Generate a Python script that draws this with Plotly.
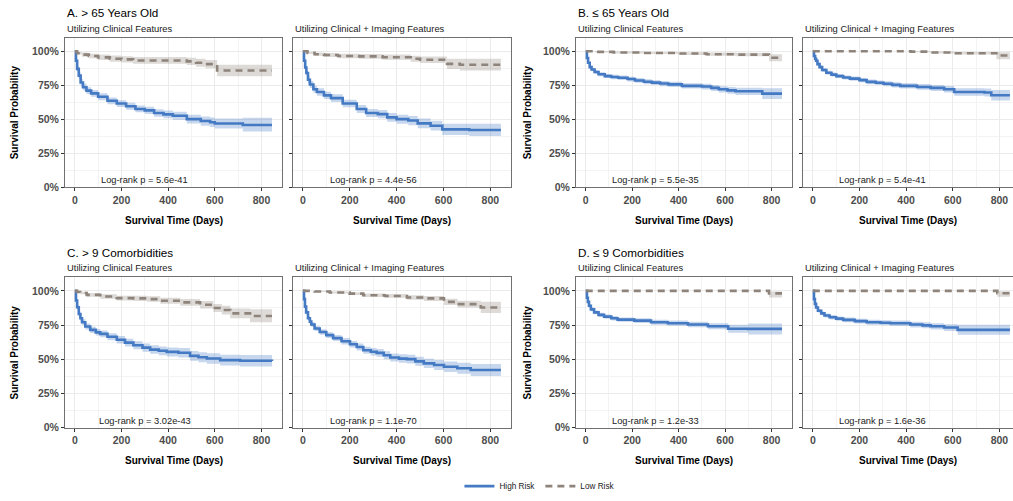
import plotly.graph_objects as go

# ---------------- data ----------------
# A. > 65 years, clinical features
A_cli_high_t = [0, 5, 10, 17, 25, 35, 50, 70, 100, 140, 180, 220, 260, 300, 340, 380, 420, 480, 540, 580, 600, 700, 720, 845]
A_cli_high_s = [1.0, 0.93, 0.87, 0.82, 0.77, 0.735, 0.71, 0.69, 0.665, 0.635, 0.615, 0.595, 0.575, 0.565, 0.545, 0.535, 0.525, 0.50, 0.486, 0.477, 0.468, 0.468, 0.457, 0.457]
A_cli_high_ucl = [1.0, 0.945, 0.89, 0.845, 0.795, 0.76, 0.735, 0.715, 0.69, 0.66, 0.64, 0.62, 0.60, 0.592, 0.573, 0.563, 0.555, 0.532, 0.52, 0.512, 0.505, 0.505, 0.51, 0.51]
A_cli_high_lcl = [1.0, 0.915, 0.85, 0.795, 0.745, 0.71, 0.685, 0.665, 0.64, 0.61, 0.59, 0.57, 0.55, 0.538, 0.517, 0.507, 0.495, 0.468, 0.452, 0.442, 0.431, 0.431, 0.41, 0.41]
A_cli_low_t = [0, 10, 30, 60, 100, 150, 200, 250, 480, 520, 560, 610, 845]
A_cli_low_s = [1.0, 0.985, 0.975, 0.965, 0.955, 0.945, 0.94, 0.932, 0.925, 0.915, 0.905, 0.858, 0.858]
A_cli_low_ucl = [1.0, 0.995, 0.99, 0.982, 0.975, 0.968, 0.963, 0.957, 0.952, 0.944, 0.936, 0.9, 0.9]
A_cli_low_lcl = [1.0, 0.975, 0.96, 0.948, 0.935, 0.922, 0.917, 0.907, 0.898, 0.886, 0.874, 0.816, 0.816]

# A. > 65 years, clinical + imaging
A_img_high_t = [0, 5, 10, 15, 22, 30, 45, 60, 90, 120, 170, 230, 270, 320, 360, 400, 450, 490, 545, 595, 710, 845]
A_img_high_s = [1.0, 0.93, 0.88, 0.84, 0.79, 0.755, 0.72, 0.70, 0.675, 0.655, 0.615, 0.575, 0.545, 0.537, 0.513, 0.50, 0.49, 0.469, 0.452, 0.425, 0.42, 0.42]
A_img_high_ucl = [1.0, 0.945, 0.90, 0.862, 0.815, 0.78, 0.746, 0.727, 0.702, 0.683, 0.643, 0.604, 0.575, 0.568, 0.545, 0.533, 0.524, 0.504, 0.488, 0.466, 0.466, 0.466]
A_img_high_lcl = [1.0, 0.915, 0.86, 0.818, 0.765, 0.73, 0.694, 0.673, 0.648, 0.627, 0.587, 0.546, 0.515, 0.506, 0.481, 0.467, 0.456, 0.434, 0.416, 0.384, 0.377, 0.377]
A_img_low_t = [0, 20, 50, 90, 150, 240, 340, 460, 500, 615, 670, 845]
A_img_low_s = [1.0, 0.988, 0.978, 0.972, 0.965, 0.962, 0.956, 0.945, 0.937, 0.907, 0.9, 0.9]
A_img_low_ucl = [1.0, 0.996, 0.99, 0.986, 0.981, 0.979, 0.975, 0.967, 0.961, 0.945, 0.944, 0.944]
A_img_low_lcl = [1.0, 0.98, 0.966, 0.958, 0.949, 0.945, 0.937, 0.923, 0.913, 0.869, 0.858, 0.858]

# B. <= 65 years, clinical features
B_cli_high_t = [0, 5, 10, 17, 25, 38, 55, 82, 110, 140, 180, 212, 250, 284, 320, 356, 414, 500, 540, 573, 610, 645, 760, 845]
B_cli_high_s = [1.0, 0.95, 0.915, 0.883, 0.865, 0.847, 0.83, 0.817, 0.81, 0.805, 0.795, 0.785, 0.775, 0.769, 0.762, 0.756, 0.745, 0.74, 0.73, 0.72, 0.712, 0.705, 0.688, 0.688]
B_cli_high_ucl = [1.0, 0.958, 0.925, 0.895, 0.878, 0.861, 0.845, 0.832, 0.826, 0.821, 0.812, 0.802, 0.793, 0.787, 0.781, 0.775, 0.765, 0.761, 0.752, 0.743, 0.737, 0.732, 0.728, 0.728]
B_cli_high_lcl = [1.0, 0.942, 0.905, 0.871, 0.852, 0.833, 0.815, 0.802, 0.794, 0.789, 0.778, 0.768, 0.757, 0.751, 0.743, 0.737, 0.725, 0.719, 0.708, 0.697, 0.687, 0.678, 0.648, 0.648]
B_cli_low_t = [0, 40, 120, 250, 400, 520, 650, 789, 845]
B_cli_low_s = [1.0, 0.995, 0.99, 0.987, 0.983, 0.978, 0.975, 0.952, 0.952]
B_cli_low_ucl = [1.0, 0.999, 0.997, 0.995, 0.993, 0.99, 0.988, 0.977, 0.977]
B_cli_low_lcl = [1.0, 0.991, 0.983, 0.979, 0.973, 0.966, 0.962, 0.927, 0.927]

# B. <= 65 years, clinical + imaging
B_img_high_t = [0, 5, 10, 14, 20, 29, 40, 58, 80, 101, 130, 159, 200, 231, 270, 303, 340, 375, 447, 505, 563, 606, 736, 765, 845]
B_img_high_s = [1.0, 0.965, 0.945, 0.93, 0.905, 0.883, 0.862, 0.842, 0.828, 0.817, 0.807, 0.798, 0.787, 0.774, 0.768, 0.761, 0.752, 0.745, 0.737, 0.73, 0.72, 0.70, 0.696, 0.676, 0.676]
B_img_high_ucl = [1.0, 0.972, 0.955, 0.942, 0.918, 0.897, 0.877, 0.857, 0.843, 0.832, 0.822, 0.814, 0.803, 0.791, 0.785, 0.779, 0.771, 0.765, 0.758, 0.752, 0.744, 0.727, 0.725, 0.715, 0.715]
B_img_high_lcl = [1.0, 0.958, 0.935, 0.918, 0.892, 0.869, 0.847, 0.827, 0.813, 0.802, 0.792, 0.782, 0.771, 0.757, 0.751, 0.743, 0.733, 0.725, 0.716, 0.708, 0.696, 0.673, 0.667, 0.637, 0.637]
B_img_low_t = [0, 420, 505, 606, 787, 845]
B_img_low_s = [1.0, 0.997, 0.99, 0.985, 0.968, 0.968]
B_img_low_ucl = [1.0, 1.0, 0.997, 0.995, 0.993, 0.993]
B_img_low_lcl = [1.0, 0.993, 0.983, 0.975, 0.94, 0.94]

# C. > 9 comorbidities, clinical features
C_cli_high_t = [0, 5, 10, 17, 24, 31, 45, 66, 90, 109, 140, 180, 215, 251, 290, 323, 360, 394, 444, 494, 530, 566, 623, 709, 845]
C_cli_high_s = [1.0, 0.93, 0.88, 0.831, 0.8, 0.771, 0.74, 0.715, 0.697, 0.686, 0.665, 0.643, 0.622, 0.603, 0.585, 0.571, 0.562, 0.554, 0.548, 0.525, 0.515, 0.506, 0.494, 0.489, 0.487]
C_cli_high_ucl = [1.0, 0.944, 0.897, 0.85, 0.82, 0.792, 0.762, 0.738, 0.721, 0.711, 0.691, 0.67, 0.65, 0.632, 0.615, 0.602, 0.594, 0.587, 0.582, 0.561, 0.552, 0.544, 0.534, 0.531, 0.53]
C_cli_high_lcl = [1.0, 0.916, 0.863, 0.812, 0.78, 0.75, 0.718, 0.692, 0.673, 0.661, 0.639, 0.616, 0.594, 0.574, 0.555, 0.54, 0.53, 0.521, 0.514, 0.489, 0.478, 0.468, 0.454, 0.447, 0.444]
C_cli_low_t = [0, 10, 23, 51, 109, 180, 251, 309, 366, 452, 537, 594, 630, 666, 751, 845]
C_cli_low_s = [1.0, 0.992, 0.985, 0.971, 0.959, 0.947, 0.945, 0.94, 0.928, 0.916, 0.899, 0.875, 0.86, 0.836, 0.817, 0.817]
C_cli_low_ucl = [1.0, 0.998, 0.994, 0.984, 0.975, 0.965, 0.964, 0.96, 0.95, 0.94, 0.926, 0.905, 0.892, 0.872, 0.865, 0.865]
C_cli_low_lcl = [1.0, 0.986, 0.976, 0.958, 0.943, 0.929, 0.926, 0.92, 0.906, 0.892, 0.872, 0.845, 0.828, 0.8, 0.77, 0.77]

# C. > 9 comorbidities, clinical + imaging
C_img_high_t = [0, 5, 9, 14, 22, 30, 36, 50, 72, 100, 129, 165, 201, 230, 258, 290, 315, 345, 373, 410, 444, 480, 516, 560, 602, 659, 716, 845]
C_img_high_s = [1.0, 0.94, 0.885, 0.843, 0.8, 0.775, 0.754, 0.725, 0.699, 0.677, 0.655, 0.632, 0.61, 0.59, 0.566, 0.555, 0.547, 0.53, 0.513, 0.505, 0.501, 0.485, 0.47, 0.458, 0.446, 0.434, 0.422, 0.422]
C_img_high_ucl = [1.0, 0.95, 0.898, 0.858, 0.816, 0.792, 0.772, 0.744, 0.719, 0.698, 0.677, 0.655, 0.634, 0.615, 0.592, 0.582, 0.575, 0.559, 0.543, 0.536, 0.533, 0.518, 0.504, 0.494, 0.484, 0.474, 0.466, 0.466]
C_img_high_lcl = [1.0, 0.93, 0.872, 0.828, 0.784, 0.758, 0.736, 0.706, 0.679, 0.656, 0.633, 0.609, 0.586, 0.565, 0.54, 0.528, 0.519, 0.501, 0.483, 0.474, 0.469, 0.452, 0.436, 0.422, 0.408, 0.394, 0.378, 0.378]
C_img_low_t = [0, 50, 115, 200, 258, 350, 444, 516, 602, 660, 759, 845]
C_img_low_s = [1.0, 0.995, 0.988, 0.98, 0.968, 0.963, 0.952, 0.945, 0.92, 0.903, 0.879, 0.879]
C_img_low_ucl = [1.0, 0.999, 0.995, 0.99, 0.981, 0.977, 0.968, 0.963, 0.943, 0.928, 0.92, 0.92]
C_img_low_lcl = [1.0, 0.991, 0.981, 0.97, 0.955, 0.949, 0.936, 0.927, 0.897, 0.878, 0.838, 0.838]

# D. <= 9 comorbidities, clinical features
D_cli_high_t = [0, 5, 9, 14, 22, 36, 55, 79, 110, 137, 209, 281, 353, 440, 526, 613, 700, 845]
D_cli_high_s = [1.0, 0.95, 0.92, 0.891, 0.865, 0.843, 0.825, 0.812, 0.8, 0.79, 0.783, 0.771, 0.764, 0.754, 0.741, 0.723, 0.722, 0.722]
D_cli_high_ucl = [1.0, 0.958, 0.93, 0.903, 0.878, 0.857, 0.84, 0.828, 0.816, 0.806, 0.8, 0.789, 0.783, 0.774, 0.763, 0.752, 0.762, 0.762]
D_cli_high_lcl = [1.0, 0.942, 0.91, 0.879, 0.852, 0.829, 0.81, 0.796, 0.784, 0.774, 0.766, 0.753, 0.745, 0.734, 0.719, 0.694, 0.682, 0.682]
D_cli_low_t = [0, 789, 845]
D_cli_low_s = [1.0, 0.982, 0.982]
D_cli_low_ucl = [1.0, 0.996, 0.996]
D_cli_low_lcl = [1.0, 0.952, 0.952]

# D. <= 9 comorbidities, clinical + imaging
D_img_high_t = [0, 5, 9, 14, 22, 36, 50, 72, 100, 130, 180, 231, 290, 332, 418, 470, 505, 563, 621, 845]
D_img_high_s = [1.0, 0.94, 0.905, 0.879, 0.855, 0.836, 0.82, 0.807, 0.797, 0.788, 0.779, 0.771, 0.767, 0.764, 0.754, 0.748, 0.741, 0.732, 0.715, 0.715]
D_img_high_ucl = [1.0, 0.948, 0.915, 0.891, 0.868, 0.85, 0.835, 0.823, 0.813, 0.805, 0.797, 0.789, 0.786, 0.784, 0.775, 0.77, 0.764, 0.757, 0.752, 0.754]
D_img_high_lcl = [1.0, 0.932, 0.895, 0.867, 0.842, 0.822, 0.805, 0.791, 0.781, 0.771, 0.761, 0.753, 0.748, 0.744, 0.733, 0.726, 0.718, 0.707, 0.68, 0.678]
D_img_low_t = [0, 791, 845]
D_img_low_s = [1.0, 0.983, 0.983]
D_img_low_ucl = [1.0, 0.997, 0.997]
D_img_low_lcl = [1.0, 0.958, 0.958]

panel_titles = ["A. > 65 Years Old", "B. \u2264 65 Years Old", "C. > 9 Comorbidities", "D. \u2264 9 Comorbidities"]
subplot_titles = ["Utilizing Clinical Features", "Utilizing Clinical + Imaging Features"]
logrank_p = ["5.6e-41", "4.4e-56", "5.5e-35", "5.4e-41", "3.02e-43", "1.1e-70", "1.2e-33", "1.6e-36"]
group_names = ["High Risk", "Low Risk"]
x_ticks = [0, 200, 400, 600, 800]
y_ticks = [0, 0.25, 0.5, 0.75, 1.0]
y_tick_labels = ["0%", "25%", "50%", "75%", "100%"]

curves = [
    ((A_cli_high_t, A_cli_high_s, A_cli_high_ucl, A_cli_high_lcl), (A_cli_low_t, A_cli_low_s, A_cli_low_ucl, A_cli_low_lcl)),
    ((A_img_high_t, A_img_high_s, A_img_high_ucl, A_img_high_lcl), (A_img_low_t, A_img_low_s, A_img_low_ucl, A_img_low_lcl)),
    ((B_cli_high_t, B_cli_high_s, B_cli_high_ucl, B_cli_high_lcl), (B_cli_low_t, B_cli_low_s, B_cli_low_ucl, B_cli_low_lcl)),
    ((B_img_high_t, B_img_high_s, B_img_high_ucl, B_img_high_lcl), (B_img_low_t, B_img_low_s, B_img_low_ucl, B_img_low_lcl)),
    ((C_cli_high_t, C_cli_high_s, C_cli_high_ucl, C_cli_high_lcl), (C_cli_low_t, C_cli_low_s, C_cli_low_ucl, C_cli_low_lcl)),
    ((C_img_high_t, C_img_high_s, C_img_high_ucl, C_img_high_lcl), (C_img_low_t, C_img_low_s, C_img_low_ucl, C_img_low_lcl)),
    ((D_cli_high_t, D_cli_high_s, D_cli_high_ucl, D_cli_high_lcl), (D_cli_low_t, D_cli_low_s, D_cli_low_ucl, D_cli_low_lcl)),
    ((D_img_high_t, D_img_high_s, D_img_high_ucl, D_img_high_lcl), (D_img_low_t, D_img_low_s, D_img_low_ucl, D_img_low_lcl)),
]

# ---------------- styling / geometry ----------------
W, H = 1013, 501
FONT = "Liberation Sans, Arial, sans-serif"
line_colors = ["#4479C4", "#8E847C"]
band_colors = ["rgba(68,121,196,0.30)", "rgba(142,132,124,0.30)"]
line_dash = ["solid", "7px,5px"]

cols_px = [(65, 282), (293, 511), (576, 792), (803, 1013)]
rows_px = [(38, 189), (280, 432)]
x_zero_px = [74.8, 302.8, 585.8, 812.8]
px_per_day = 0.2333


def fx(px):
    return px / W


def fy(px):
    return 1 - px / H


fig = go.Figure()
layout_axes = {}
annotations = []

for idx in range(8):
    r, c = divmod(idx, 4)
    n = idx + 1
    xa = "x" if n == 1 else f"x{n}"
    ya = "y" if n == 1 else f"y{n}"
    (hi, lo) = curves[idx]

    # confidence bands
    for g, (t, s, ucl, lcl) in enumerate((hi, lo)):
        fig.add_trace(go.Scatter(x=t, y=lcl, xaxis=xa, yaxis=ya, mode="lines",
                                 line=dict(width=0, shape="hv", color=band_colors[g]),
                                 showlegend=False, hoverinfo="skip"))
        fig.add_trace(go.Scatter(x=t, y=ucl, xaxis=xa, yaxis=ya, mode="lines",
                                 line=dict(width=0, shape="hv", color=band_colors[g]),
                                 fill="tonexty", fillcolor=band_colors[g],
                                 showlegend=False, hoverinfo="skip"))
    # survival curves
    for g, (t, s, ucl, lcl) in enumerate((hi, lo)):
        fig.add_trace(go.Scatter(x=t, y=s, xaxis=xa, yaxis=ya, mode="lines",
                                 name=group_names[g], legendgroup=group_names[g],
                                 showlegend=(idx == 0),
                                 line=dict(width=2.6, shape="hv", color=line_colors[g], dash=line_dash[g])))

    x0, x1 = cols_px[c]
    y0, y1 = rows_px[r]
    xmax = 888 if c != 3 else (W - x_zero_px[3]) / px_per_day
    axis_common = dict(
        showline=True, linecolor="#707070", linewidth=1, mirror=True,
        ticks="outside", ticklen=3, tickcolor="#333333", tickwidth=1,
        showgrid=True, gridcolor="#EBEBEB", gridwidth=1, zeroline=False,
        tickfont=dict(family=FONT, size=10.5, color="#4D4D4D", weight="bold"),
    )
    layout_axes["xaxis" if n == 1 else f"xaxis{n}"] = dict(
        axis_common, domain=[fx(x0), fx(x1)], anchor=ya, range=[-42, xmax],
        tickvals=x_ticks, ticktext=[str(v) for v in x_ticks],
        minor=dict(dtick=100, tick0=0, showgrid=True, gridcolor="#F3F3F3", gridwidth=0.8),
    )
    layout_axes["yaxis" if n == 1 else f"yaxis{n}"] = dict(
        axis_common, domain=[fy(y1), fy(y0)], anchor=xa, range=[0, 1.1],
        tickvals=y_ticks, ticktext=(y_tick_labels if c % 2 == 0 else [""] * 5),
        minor=dict(dtick=0.125, tick0=0, showgrid=True, gridcolor="#F3F3F3", gridwidth=0.8),
    )

    # log-rank annotation
    annotations.append(dict(x=300, y=0.05, xref=xa, yref=ya, text=f"Log-rank p = {logrank_p[idx]}",
                            showarrow=False, font=dict(family=FONT, size=9.3, color="#222222"),
                            xanchor="center", yanchor="middle"))
    # subplot subtitle
    title_y = [28.3, 270.5][r]
    annotations.append(dict(x=fx(x0), y=fy(title_y), xref="paper", yref="paper",
                            text=subplot_titles[c % 2], showarrow=False, xanchor="left", yanchor="middle",
                            font=dict(family=FONT, size=9.4, color="#1A1A1A")))
    # x axis title
    xt_y = [222.3, 465][r]
    annotations.append(dict(x=fx((x0 + min(x1, x0 + 217)) / 2), y=fy(xt_y), xref="paper", yref="paper",
                            text="<b>Survival Time (Days)</b>", showarrow=False, xanchor="center", yanchor="middle",
                            font=dict(family=FONT, size=10, color="#000000")))
    if c % 2 == 0:
        # panel title
        pt_y = [12.7, 255][r]
        annotations.append(dict(x=fx(x0), y=fy(pt_y), xref="paper", yref="paper",
                                text=panel_titles[r * 2 + c // 2], showarrow=False, xanchor="left", yanchor="middle",
                                font=dict(family=FONT, size=11.7, color="#000000")))
        # y axis title
        yt_x = [14, 527][c // 2]
        annotations.append(dict(x=fx(yt_x), y=fy((y0 + y1) / 2), xref="paper", yref="paper",
                                text="<b>Survival Probability</b>", showarrow=False, textangle=-90,
                                xanchor="center", yanchor="middle",
                                font=dict(family=FONT, size=10, color="#000000")))

fig.update_layout(
    width=W, height=H,
    margin=dict(l=0, r=0, t=0, b=0),
    paper_bgcolor="white", plot_bgcolor="white",
    annotations=annotations,
    showlegend=True,
    legend=dict(orientation="h", x=0.533, xanchor="center", y=fy(491), yanchor="middle",
                font=dict(family=FONT, size=8.2, color="#222222"), bgcolor="rgba(0,0,0,0)",
                itemwidth=30, tracegroupgap=0),
    **layout_axes,
)

fig.write_html("out.html",
               config={"displayModeBar": False},
               post_script="document.body.style.margin='0';document.body.style.padding='0';"
                           "document.body.style.overflow='hidden';")
